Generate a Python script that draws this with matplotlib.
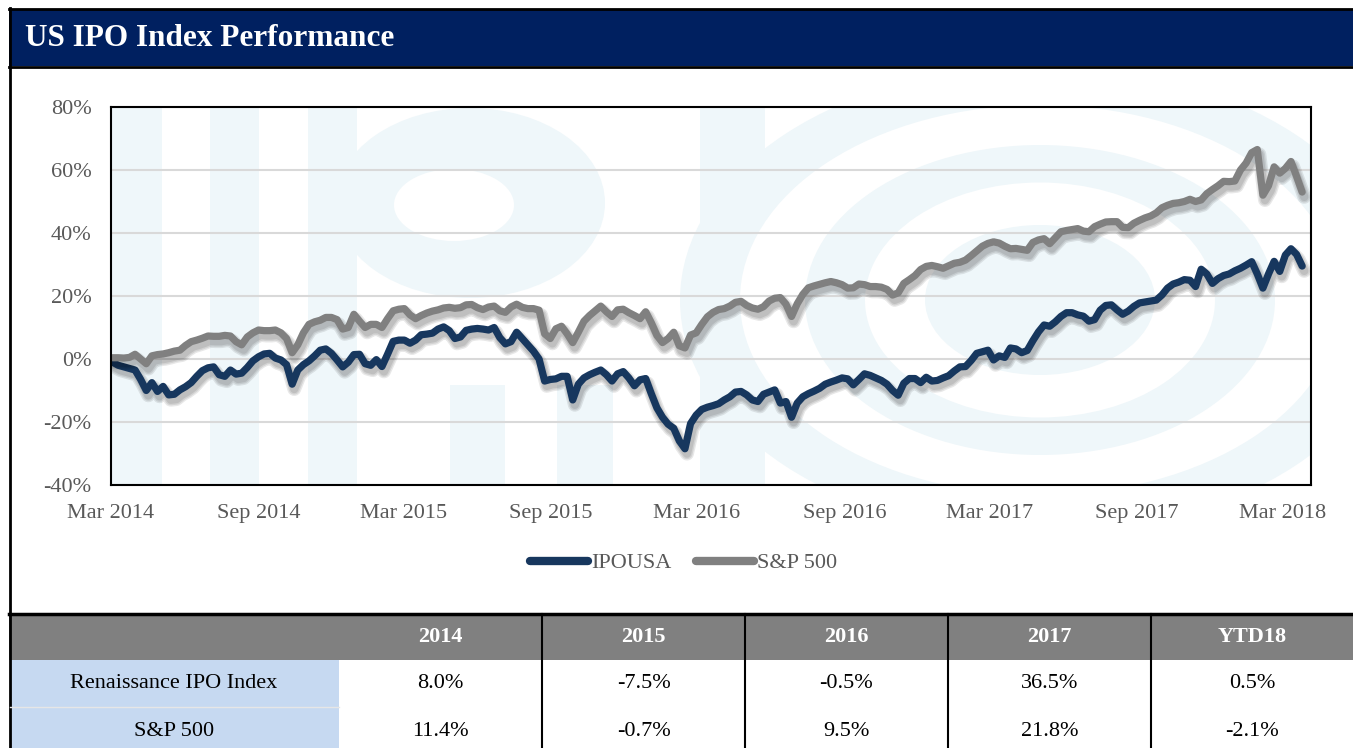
import pandas as pd
import matplotlib
matplotlib.use("Agg")
import matplotlib.pyplot as plt
import matplotlib.patheffects as pe
from matplotlib.lines import Line2D
from matplotlib.patches import Rectangle, Ellipse

plt.rcParams["font.family"] = ["Liberation Serif", "DejaVu Serif"]

W, H = 1353, 748

# weekly cumulative returns (%)
dates = pd.date_range("2014-03-03", periods=213, freq="7D")
ipousa = [-1, -2, -2.5, -3, -3.5, -6.5, -10, -7.5, -10.3, -8.7,
          -11.4, -11.2, -9.8, -8.8, -7.5, -5.5, -3.7, -2.8, -2.5, -5,
          -5.5, -3.5, -4.8, -4.5, -2.7, -0.6, 0.7, 1.6, 1.8, 0.3,
          -0.3, -1.8, -8, -3.5, -1.8, -0.6, 1, 2.8, 3.2, 1.8,
          -0.3, -2.5, -1, 1.4, 1.5, -1.5, -2, -0.2, -2.4, 1.5,
          5.6, 6, 6, 5, 6, 7.7, 7.9, 8.2, 9.5, 10.2,
          9, 6.5, 7, 9.1, 9.5, 9.7, 9.5, 9.2, 10, 6.8,
          4.8, 5.5, 8.5, 6.5, 4.5, 2.5, 0, -7, -6.5, -6.3,
          -5.5, -5.5, -13, -8, -6, -5, -4.2, -3.5, -5, -7,
          -4.7, -4, -6, -8.5, -6.6, -6.2, -11, -15.5, -18.5, -20.7,
          -22, -26, -28.5, -20.5, -17.8, -16, -15.3, -14.8, -14.2, -13,
          -12, -10.5, -10.3, -11.4, -13, -13.5, -11.2, -10.5, -9.8, -14,
          -13.5, -18.5, -14, -12, -11, -10.2, -9.3, -8, -7.3, -6.7,
          -6, -6.3, -8.2, -6.5, -4.7, -5.2, -6, -6.8, -8, -10,
          -11.5, -7.7, -6.2, -6.2, -7.5, -5.8, -7, -6.8, -6, -5.3,
          -3.8, -2.5, -2.4, -0.5, 1.8, 2.3, 2.8, -0.3, 1, 0.5,
          3.5, 3.2, 2, 2.7, 5.8, 8.6, 10.8, 10.4, 11.8, 13.5,
          14.7, 14.7, 14, 13.6, 12, 12.5, 15.5, 17, 17.2, 15.6,
          14.2, 15.2, 16.7, 17.8, 18.1, 18.4, 18.7, 20.3, 22.5, 23.8,
          24.4, 25.2, 25, 23, 28.5, 27, 24, 25.5, 26.5, 27,
          28, 28.8, 29.8, 30.9, 27, 22.5, 27, 31, 27.8, 33,
          35, 33.2, 29.5]
sp500 = [0.4, 0.4, 0.3, 0.5, 1.5, 0, -1.5, 1, 1.4, 1.6,
         2, 2.5, 2.8, 4.3, 5.5, 6, 6.6, 7.3, 7.2, 7.2,
         7.5, 7.3, 5.5, 4.5, 7, 8.3, 9.2, 9, 9, 9.2,
         8.3, 6.5, 2, 4.5, 8.3, 11, 11.8, 12.3, 13.2, 13.2,
         12.5, 9.5, 10, 14.2, 12, 10, 11, 11, 10, 12.8,
         15.3, 15.8, 16, 14, 12.8, 13.8, 14.6, 15.2, 15.6, 16.2,
         16.4, 16.1, 16.3, 17.2, 17.3, 16.3, 15.7, 16.5, 16.8, 15.3,
         14.8, 16.5, 17.4, 16.4, 16, 16, 15.5, 8, 6.5, 9.6,
         10.4, 8, 5.2, 8.5, 12, 13.8, 15.3, 16.8, 15, 13.5,
         15.6, 15.8, 14.7, 13.8, 12.8, 15, 11.5, 7.5, 5.2, 6.5,
         8.5, 4.2, 3.5, 7.6, 8.3, 11, 13.4, 14.8, 15.7, 16,
         16.8, 18, 18.3, 17, 16.2, 15.8, 16.6, 18.4, 19.3, 19.5,
         17.4, 13.5, 17.5, 20.5, 22.6, 23.2, 23.7, 24.2, 24.6, 24.2,
         23.6, 22.5, 22.6, 23.8, 23.6, 23, 23, 22.8, 22.1, 20.3,
         21, 24, 25.2, 26.5, 28.4, 29.4, 29.7, 29.3, 28.8, 29.6,
         30.4, 30.7, 31.4, 32.8, 34.3, 35.8, 36.7, 37.2, 36.8, 35.8,
         35, 35.1, 34.8, 34.5, 37, 37.8, 38.2, 36.6, 38.5, 40.4,
         40.8, 41.1, 41.4, 40.6, 40.4, 42, 42.8, 43.5, 43.6, 43.6,
         41.8, 41.7, 43.1, 44, 44.8, 45.4, 46.4, 48, 48.8, 49.4,
         49.6, 50, 50.7, 50, 50.5, 52.5, 53.8, 55, 56.4, 56.3,
         56.5, 60, 62.2, 65.5, 66.5, 52, 55, 61, 59, 60.5,
         62.7, 58, 53]

tick_dates = pd.date_range("2014-03-01", "2018-03-01", freq="6MS")
tick_labels = [d.strftime("%b %Y") for d in tick_dates]
yticks = [-40, -20, 0, 20, 40, 60, 80]

years = ["2014", "2015", "2016", "2017", "YTD18"]
row_names = ["Renaissance IPO Index", "S&P 500"]
ipo_returns = ["8.0%", "-7.5%", "-0.5%", "36.5%", "0.5%"]
sp_returns = ["11.4%", "-0.7%", "9.5%", "21.8%", "-2.1%"]

navy = "#17375e"
grey = "#808080"
label_grey = "#595959"
wm = "#eff7fa"

fig = plt.figure(figsize=(W / 100, H / 100), dpi=100)

# background layer in pixel coordinates: header, watermark, table
bg = fig.add_axes([0, 0, 1, 1], zorder=0)
bg.set_xlim(0, W)
bg.set_ylim(H, 0)
bg.axis("off")

bg.add_patch(Rectangle((9, 9), W - 9, 57, fc="#002060", ec="none"))
bg.text(25, 38, "US IPO Index Performance", color="white", fontsize=22.5,
        fontweight="bold", va="center", ha="left")
bg.plot([9.5, 9.5], [8, H], color="black", lw=2)
bg.plot([9, W], [8.5, 8.5], color="black", lw=2)
bg.plot([9, W], [66.5, 66.5], color="black", lw=2)

# faint "IPO" watermark behind the plot area
clip = Rectangle((111, 107), 1200, 378, transform=bg.transData)
shapes = []
for x0, x1, y0 in [(111, 162, 107), (210, 259, 107), (308, 357, 107),
                   (700, 765, 107), (450, 505, 385), (557, 613, 385)]:
    shapes.append(Rectangle((x0, y0), x1 - x0, 485 - y0, fc=wm, ec="none"))
shapes.append(Ellipse((470, 203), 270, 190, fc=wm, ec="none"))
shapes.append(Ellipse((454, 205), 120, 72, fc="white", ec="none"))
for i, (w, h) in enumerate([(720, 470), (600, 390), (470, 310), (350, 235), (230, 150)]):
    shapes.append(Ellipse((1040, 300), w, h, fc=wm if i % 2 == 0 else "white", ec="none"))
for s in shapes:
    bg.add_patch(s)
    s.set_clip_path(clip)

# table
bg.add_patch(Rectangle((9, 614), W - 9, 46, fc="#808080", ec="none"))
bg.add_patch(Rectangle((10, 660), 329, 88, fc="#c6d9f1", ec="none"))
bg.plot([10, 339], [707, 707], color="#e6e6e6", lw=1)
bg.plot([9, W], [614, 614], color="black", lw=2.5)
for x in [542, 745, 948, 1151]:
    bg.plot([x, x], [614, H], color="black", lw=1.5)
col_centers = [440.5, 643.5, 846.5, 1049.5, 1252]
for cx, yr in zip(col_centers, years):
    bg.text(cx, 637, yr, color="white", fontsize=16, fontweight="bold",
            ha="center", va="center")
for ry, name, vals in zip([684, 731], row_names, [ipo_returns, sp_returns]):
    bg.text(174, ry, name, fontsize=16, ha="center", va="center", color="black")
    for cx, v in zip(col_centers, vals):
        bg.text(cx, ry, v, fontsize=16, ha="center", va="center", color="black")

# main chart
ax = fig.add_axes([111 / W, 1 - 485 / H, 1200 / W, 378 / H], zorder=1)
ax.patch.set_alpha(0)

shadow = [pe.SimpleLineShadow(offset=(1.5, -3.5), shadow_color="black", alpha=0.09, linewidth=lw)
          for lw in (10, 8, 6)] + [pe.Normal()]
ax.plot(dates, ipousa, color=navy, lw=5.2, solid_joinstyle="round",
        solid_capstyle="round", path_effects=shadow)
ax.plot(dates, sp500, color=grey, lw=5.2, solid_joinstyle="round",
        solid_capstyle="round", path_effects=shadow)

ax.set_xlim(pd.Timestamp("2014-03-01"), pd.Timestamp("2018-04-06"))
ax.set_ylim(-40, 80)
ax.set_xticks(tick_dates)
ax.set_xticklabels(tick_labels)
ax.set_yticks(yticks)
ax.set_yticklabels([f"{v}%" for v in yticks])
ax.tick_params(length=0, labelsize=16, labelcolor=label_grey)
ax.tick_params(axis="x", pad=14)
ax.tick_params(axis="y", pad=14)
ax.yaxis.grid(True, color="#d9d9d9", lw=1.5)
ax.set_axisbelow(True)
for sp in ax.spines.values():
    sp.set_color("black")
    sp.set_linewidth(1.5)

handles = [Line2D([], [], color=navy, lw=6, solid_capstyle="round"),
           Line2D([], [], color=grey, lw=6, solid_capstyle="round")]
leg = ax.legend(handles, ["IPOUSA", "S&P 500"], loc="center",
                bbox_to_anchor=(684 / W, 1 - 563 / H), bbox_transform=fig.transFigure,
                ncol=2, frameon=False, fontsize=16, handlelength=2.6,
                handletextpad=0.15, columnspacing=1.1)
for t in leg.get_texts():
    t.set_color(label_grey)

fig.savefig("out.png", dpi=100)
